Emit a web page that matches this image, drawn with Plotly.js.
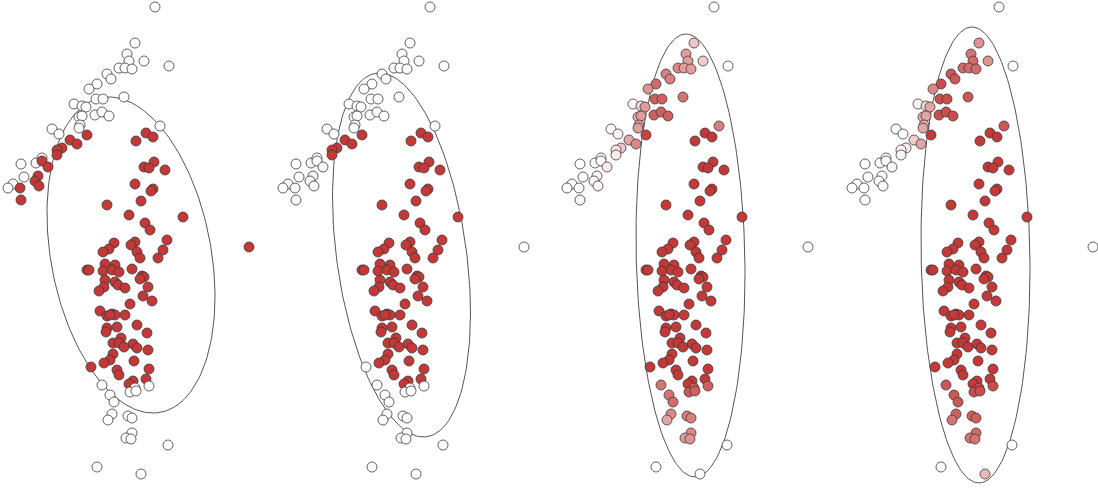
<!DOCTYPE html>
<html>
<head>
<meta charset="utf-8">
<script src="https://cdn.plot.ly/plotly-3.0.1.min.js"></script>
<style>html,body{margin:0;padding:0;background:#fff;}#chart{width:1098px;height:488px;}</style>
</head>
<body>
<div id="chart"></div>
<script>
// Point coordinates (shared by all four panels)
var xs = [
  155,135,127,129,144,169,119,125,132,107,111,97,89,96,103,124,74,82,86,79,82,95,102,109,80,79,52,59,160,21,36,42,24,13,8,
  87,70,77,62,57,57,42,48,38,35,39,20,21,
  146,153,136,154,144,149,165,135,153,151,141,107,129,183,145,150,249,
  167,114,109,103,135,131,137,140,163,158,105,115,87,89,103,112,119,132,142,144,140,105,115,118,104,125,148,99,143,152,130,
  100,107,112,115,110,125,137,107,117,106,147,121,113,119,133,124,137,148,113,110,104,134,117,119,149,146,133,129,91,
  102,149,135,130,136,110,114,112,108,128,132,132,126,131,168,97,141
];
var ys = [
  7,43,54,61,61,66,68,68,69,74,79,84,89,99,99,97,104,106,107,117,116,115,112,116,125,128,129,134,126,164,163,158,177,184,188,
  135,140,144,148,150,155,161,167,176,181,186,188,200,
  133,137,141,162,167,168,170,184,189,191,201,205,215,217,223,230,247,
  240,243,249,252,242,245,252,258,250,258,264,265,270,270,271,270,272,269,276,277,279,280,282,285,287,288,287,291,296,301,304,
  311,316,314,315,315,315,325,328,327,332,333,338,343,343,344,347,348,350,354,360,363,361,370,375,369,379,381,384,367,
  385,386,388,392,391,395,402,414,420,416,418,433,438,439,445,467,474
];
// Weights (0 = white, 1 = full red) per panel
var w1 = [
  0,0,0,0,0,0,0,0,0,0,0,0,0,0,0,0,0,0,0,0,0,0,0,0,0,0,0,0,0,0,0,0,0,0,0,
  1,1,1,1,1,1,1,1,1,1,1,1,1,
  1,1,1,1,1,1,1,1,1,1,1,1,1,1,1,1,1,
  1,1,1,1,1,1,1,1,1,1,1,1,1,1,1,1,1,1,1,1,1,1,1,1,1,1,1,1,1,1,1,
  1,1,1,1,1,1,1,1,1,1,1,1,1,1,1,1,1,1,1,1,1,1,1,1,1,1,1,1,1,
  0,0,0,0,0,0,0,0,0,0,0,0,0,0,0,0,0
];
var w2 = [
  0,0,0,0,0,0,0,0,0,0,0,0,0,0,0,0,0,0,0,0,0,0,0,0,0,0,0,0,0,0,0,0,0,0,0,
  1,1,1,1,1,1,0,0.05,0.05,0.05,0.05,0.05,0.05,
  1,1,1,1,1,1,1,1,1,1,1,1,1,1,1,1,0,
  1,1,1,1,1,1,1,1,1,1,1,1,1,1,1,1,1,1,1,1,1,1,1,1,1,1,1,1,1,1,1,
  1,1,1,1,1,1,1,1,1,1,1,1,1,1,1,1,1,1,1,1,1,1,1,1,1,1,1,1,0,
  0,0,0,0,0,0,0,0,0,0,0,0,0,0,0,0,0
];
var w3 = [
  0,0.3,0.5,0.5,0.25,0,0.6,0.5,0.5,0.65,0.65,0.75,0.55,0.8,0.8,0.7,0.05,0.2,0.5,0.4,0.5,0.8,0.8,0.8,0.5,0.5,0,0.05,0.65,0,0,0,0,0,0,
  0.95,0.45,0.6,0.3,0.15,0.1,0,0.1,0.05,0.05,0.05,0,0.05,
  1,1,1,1,1,1,1,1,1,1,1,1,1,1,1,1,0,
  1,1,1,1,1,1,1,1,1,1,1,1,1,1,1,1,1,1,1,1,1,1,1,1,1,1,1,1,1,1,1,
  1,1,1,1,1,1,1,1,1,1,1,1,1,1,1,1,1,1,1,1,1,1,1,1,1,1,1,1,1,
  0.7,0.8,0.8,0.85,0.8,0.7,0.75,0.6,0.45,0.65,0.65,0.6,0.5,0.55,0,0,0
];
var w4 = [
  0,0.55,0.7,0.75,0.55,0,0.75,0.75,0.75,0.85,0.85,0.9,0.6,0.9,0.9,0.85,0.05,0.2,0.45,0.4,0.45,0.9,0.9,0.9,0.4,0.45,0,0,0.85,0,0,0,0,0,0,
  1,0.25,0.45,0.1,0.05,0.05,0,0.05,0,0,0,0,0,
  1,1,1,1,1,1,1,1,1,1,1,1,1,1,1,1,0,
  1,1,1,1,1,1,1,1,1,1,1,1,1,1,1,1,1,1,1,1,1,1,1,1,1,1,1,1,1,1,1,
  1,1,1,1,1,1,1,1,1,1,1,1,1,1,1,1,1,1,1,1,1,1,1,1,1,1,1,1,1,
  0.85,0.9,0.9,0.9,0.9,0.85,0.85,0.8,0.7,0.8,0.8,0.75,0.7,0.7,0,0,0.35
];
var weights = [w1, w2, w3, w4];
// Ellipse parameters per panel: center, variances, covariance
var ellCx  = [131, 126.5, 131.5, 131.5];
var ellCy  = [255, 255, 255.5, 255];
var ellVx  = [7056, 4761, 2970, 2970];
var ellVy  = [24964, 33124, 49062, 51984];
var ellCxy = [3476, 4004, 997, 798];
// Panel left offsets in pixels
var panelLeft = [0, 275, 559, 844];

var W = 1098, PW = 254;
var traces = [];
var layout = {
  width: W, height: 488,
  margin: {l:0, r:0, t:0, b:0},
  paper_bgcolor: '#ffffff', plot_bgcolor: 'rgba(0,0,0,0)',
  showlegend: false,
  yaxis: {range:[488,0], domain:[0,1], visible:false, fixedrange:true}
};
for (var p = 0; p < 4; p++) {
  var ax = p === 0 ? '' : String(p+1);
  var d0 = panelLeft[p]/W, d1 = Math.min(1, (panelLeft[p]+PW)/W);
  layout['xaxis'+ax] = {range:[0, (d1-d0)*W], domain:[d0,d1], visible:false, fixedrange:true, anchor:'y'};
  // ellipse
  var l11 = Math.sqrt(ellVx[p]);
  var l21 = ellCxy[p]/l11;
  var l22 = Math.sqrt(ellVy[p] - l21*l21);
  var ex = [], ey = [];
  for (var i = 0; i <= 200; i++) {
    var t = 2*Math.PI*i/200;
    ex.push(ellCx[p] + l11*Math.cos(t));
    ey.push(ellCy[p] + l21*Math.cos(t) + l22*Math.sin(t));
  }
  traces.push({x:ex, y:ey, xaxis:'x'+ax, yaxis:'y', mode:'lines', type:'scatter',
    line:{color:'#555555', width:1}, hoverinfo:'skip', cliponaxis:false});
  traces.push({x:xs, y:ys, xaxis:'x'+ax, yaxis:'y', mode:'markers', type:'scatter', cliponaxis:false,
    marker:{size:10, color:weights[p], cmin:0, cmax:1,
      colorscale:[[0,'#ffffff'],[1,'rgb(196,56,56)']], showscale:false,
      line:{color:'#3a3a3a', width:0.8}}});
}
Plotly.newPlot('chart', traces, layout, {displayModeBar:false, staticPlot:true});
</script>
</body>
</html>
